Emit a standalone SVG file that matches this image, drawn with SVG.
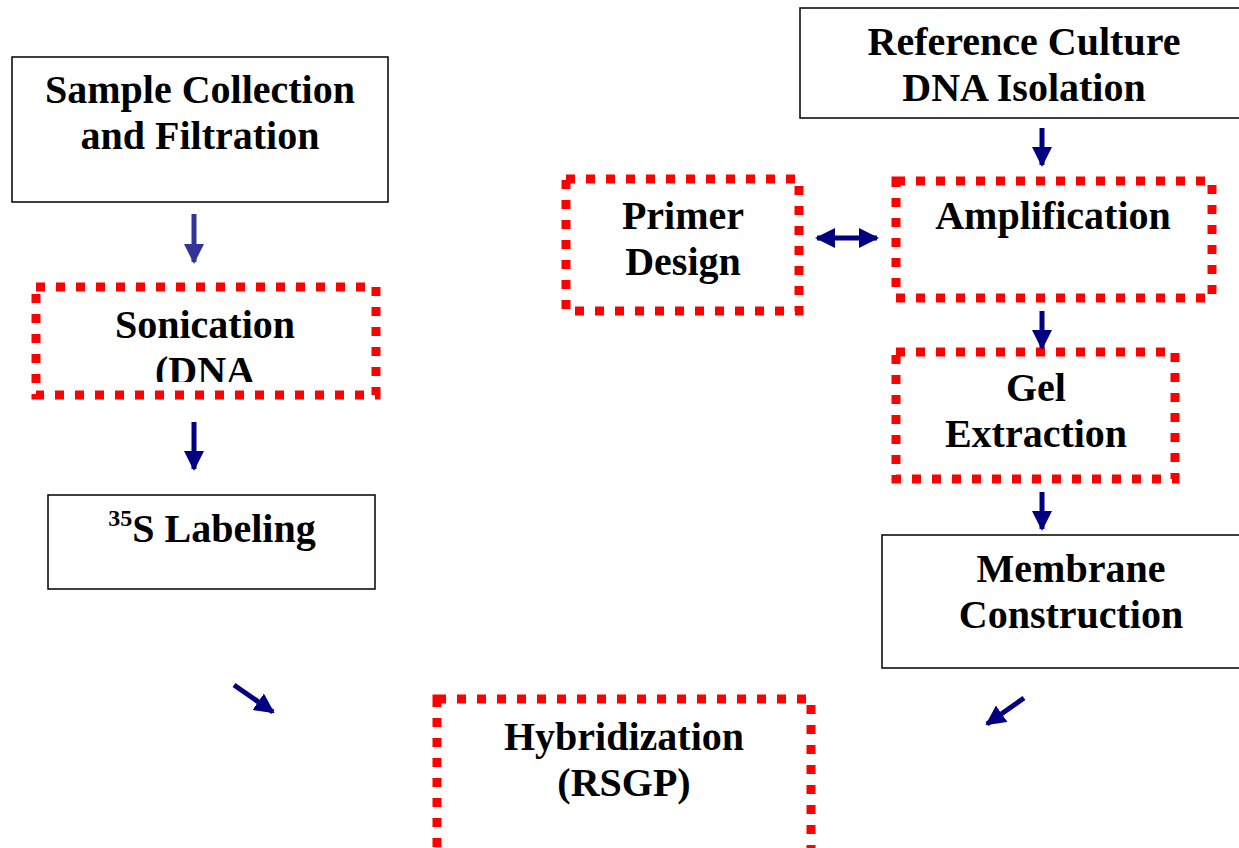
<svg xmlns="http://www.w3.org/2000/svg" width="1239" height="848" viewBox="0 0 1239 848">
<style>
.solid{fill:#fff;stroke:#000;stroke-width:1.5}
.dot{fill:#fff;stroke:#ff0000;stroke-width:9;stroke-dasharray:9 11}
text{font-family:"Liberation Serif","Times New Roman",serif;font-weight:bold;font-size:40px;fill:#000;text-anchor:middle}
.arr{stroke:#000080;stroke-width:5;fill:none}
</style>
<defs>
<marker id="ah" viewBox="0 0 10 10" refX="9" refY="5" markerWidth="4" markerHeight="4" orient="auto-start-reverse" markerUnits="strokeWidth">
<path d="M0,0 L10,5 L0,10 Z" fill="#000080"/>
</marker>
<marker id="ah2" viewBox="0 0 10 10" refX="9" refY="5" markerWidth="4" markerHeight="4" orient="auto" markerUnits="strokeWidth">
<path d="M0,0 L10,5 L0,10 Z" fill="#333399"/>
</marker>
<clipPath id="sonclip"><rect x="33" y="287" width="345" height="95"/></clipPath>
</defs>
<rect width="1239" height="848" fill="#fff"/>
<g id="sample">
<rect class="solid" x="12" y="57" width="376" height="145"/>
<text x="200" y="103">Sample Collection</text>
<text x="200" y="149">and Filtration</text>
</g>
<g id="reference">
<rect class="solid" x="800" y="8" width="445" height="110"/>
<text x="1024" y="55">Reference Culture</text>
<text x="1024" y="101">DNA Isolation</text>
</g>
<g id="primer">
<rect class="dot" x="566" y="179" width="233" height="132"/>
<text x="683" y="229">Primer</text>
<text x="683" y="275">Design</text>
</g>
<g id="amplification">
<rect class="dot" x="896" y="181" width="316" height="117"/>
<text x="1053" y="229">Amplification</text>
</g>
<g id="sonication">
<rect class="dot" x="36" y="287" width="340" height="108"/>
<text x="205" y="338">Sonication</text>
<text x="205" y="384" clip-path="url(#sonclip)">(DNA</text>
</g>
<g id="gel">
<rect class="dot" x="896" y="352" width="279" height="127"/>
<text x="1036" y="401">Gel</text>
<text x="1036" y="447">Extraction</text>
</g>
<g id="labeling">
<rect class="solid" x="48" y="495" width="327" height="94"/>
<text x="212" y="542"><tspan font-size="24" dy="-16">35</tspan><tspan dy="16">S Labeling</tspan></text>
</g>
<g id="membrane">
<rect class="solid" x="882" y="535" width="360" height="133"/>
<text x="1071" y="582">Membrane</text>
<text x="1071" y="628">Construction</text>
</g>
<g id="hybridization">
<rect class="dot" x="437" y="699" width="374" height="160"/>
<text x="624" y="750">Hybridization</text>
<text x="624" y="796">(RSGP)</text>
</g>
<g id="connectors">
<line x1="194" y1="214" x2="194" y2="262" stroke="#333399" stroke-width="5" marker-end="url(#ah2)"/>
<line class="arr" x1="194" y1="422" x2="194" y2="469" marker-end="url(#ah)"/>
<line class="arr" x1="1042" y1="128" x2="1042" y2="165" marker-end="url(#ah)"/>
<line class="arr" x1="817" y1="238" x2="877" y2="238" marker-start="url(#ah)" marker-end="url(#ah)"/>
<line class="arr" x1="1042" y1="311" x2="1042" y2="348" marker-end="url(#ah)"/>
<line class="arr" x1="1042" y1="492" x2="1042" y2="529" marker-end="url(#ah)"/>
<line class="arr" x1="234" y1="685" x2="273" y2="712" marker-end="url(#ah)"/>
<line class="arr" x1="1024" y1="698" x2="987" y2="724" marker-end="url(#ah)"/>
</g>
</svg>
